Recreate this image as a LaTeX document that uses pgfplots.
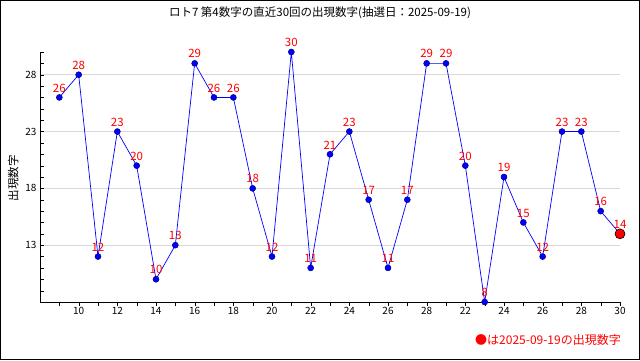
\documentclass[border=0pt]{standalone}
\usepackage{fontspec}
\setmainfont{Noto Sans CJK JP}
\usepackage{pgfplots}
\pgfplotsset{compat=1.18}
\begin{document}
\begin{tikzpicture}[x=1pt,y=1pt]
\useasboundingbox (0,0) rectangle (640,360);
\draw[black, line width=1pt] (0.5,0.5) rectangle (639.5,359.5);
\node[font=\fontsize{11.5}{13}\selectfont] at (320,347) {ロト7 第4数字の直近30回の出現数字(抽選日：2025-09-19)};
\node[font=\fontsize{12}{13}\selectfont, text=red, anchor=east, inner sep=0pt] at (621,20) {●は2025-09-19の出現数字};
\begin{axis}[
  at={(40pt,58pt)}, anchor=south west,
  scale only axis, width=580pt, height=250pt,
  xmin=-1, xmax=29, ymin=8, ymax=30,
  axis lines*=left,
  axis line style={black, line width=0.8pt},
  xtick={1,3,5,7,9,11,13,15,17,19,21,23,25,27,29},
  xticklabels={10,12,14,16,18,20,22,24,26,28,22,24,26,28,30},
  minor xtick={0,2,4,6,8,10,12,14,16,18,20,22,24,26,28},
  ytick={13,18,23,28},
  minor ytick={9,10,11,12,14,15,16,17,19,20,21,22,24,25,26,27,29,30},
  tick align=inside,
  major tick length=4pt, minor tick length=4pt,
  x tick style={yshift=-4pt, black},
  y tick style={black},
  ymajorgrids, major grid style={gray!30, line width=0.8pt},
  tick label style={font=\fontsize{10}{11}\selectfont},
  /pgf/number format/assume math mode=true,
  ylabel={出現数字},
  ylabel style={font=\fontsize{11.5}{13}\selectfont, at={(ticklabel cs:0.5)}, xshift=-1pt},
  xticklabel style={yshift=-2pt},
  clip=false,
]
\addplot[blue, line width=0.7pt, mark=*, mark size=3pt, mark options={fill=blue, draw=blue!50!black, line width=0.5pt},
  nodes near coords,
  every node near coord/.append style={font=\fontsize{11.5}{12}\selectfont, text=red, anchor=south, inner sep=1pt, yshift=4pt}]
coordinates {
(0,26)(1,28)(2,12)(3,23)(4,20)(5,10)(6,13)(7,29)(8,26)(9,26)
(10,18)(11,12)(12,30)(13,11)(14,21)(15,23)(16,17)(17,11)(18,17)(19,29)
(20,29)(21,20)(22,8)(23,19)(24,15)(25,12)(26,23)(27,23)(28,16)(29,14)
};
\addplot[only marks, mark=*, mark size=5pt, mark options={fill=red, draw=black, line width=0.6pt}]
coordinates {(29,14)};
\end{axis}
\end{tikzpicture}
\end{document}
